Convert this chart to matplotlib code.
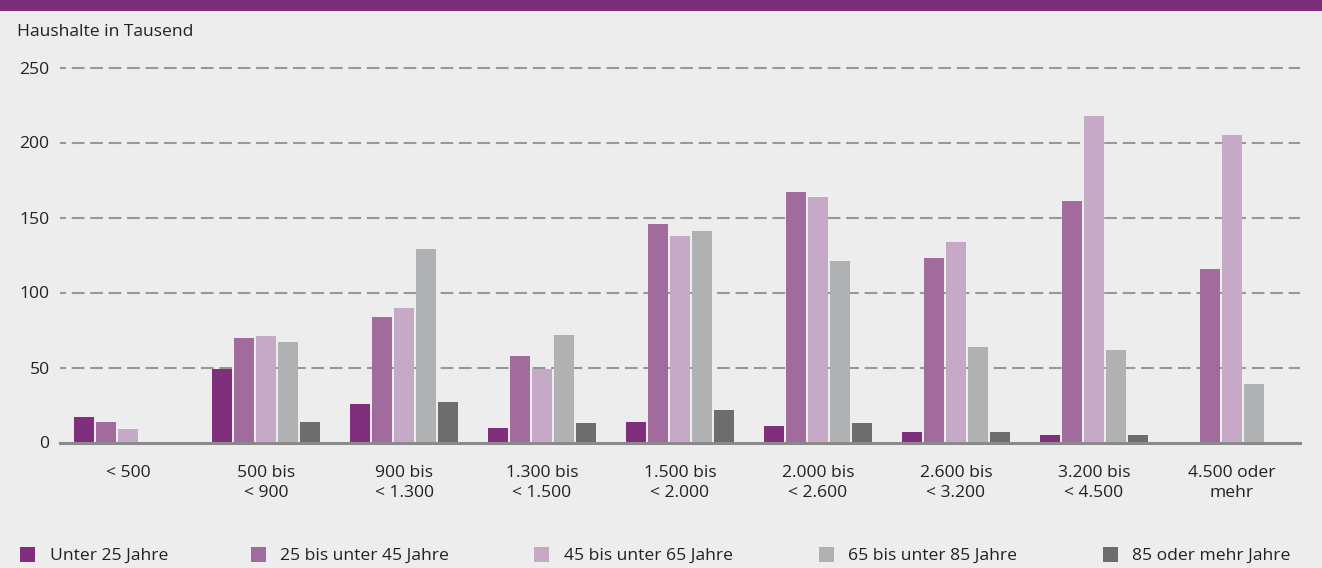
import matplotlib
matplotlib.use("Agg")
import matplotlib.pyplot as plt
from matplotlib.patches import Rectangle
import numpy as np

plt.rcParams['font.family'] = ['Open Sans', 'DejaVu Sans']

categories = ["< 500", "500 bis\n< 900", "900 bis\n< 1.300", "1.300 bis\n< 1.500",
              "1.500 bis\n< 2.000", "2.000 bis\n< 2.600", "2.600 bis\n< 3.200",
              "3.200 bis\n< 4.500", "4.500 oder\nmehr"]
series_names = ["Unter 25 Jahre", "25 bis unter 45 Jahre", "45 bis unter 65 Jahre",
                "65 bis unter 85 Jahre", "85 oder mehr Jahre"]
unter_25 = [17, 49, 26, 10, 14, 11, 7, 5, 0]
von_25_bis_45 = [14, 70, 84, 58, 146, 167, 123, 161, 116]
von_45_bis_65 = [9, 71, 90, 49, 138, 164, 134, 218, 205]
von_65_bis_85 = [0, 67, 129, 72, 141, 121, 64, 62, 39]
ab_85 = [0, 14, 27, 13, 22, 13, 7, 5, 0]
y_ticks = [0, 50, 100, 150, 200, 250]

series = [unter_25, von_25_bis_45, von_45_bis_65, von_65_bis_85, ab_85]
colors = ["#7f2f7b", "#a16b9e", "#c6a8c7", "#b0b1b2", "#6d6d6d"]

W, H = 1322, 568
bg = "#ededed"
fs = 12.6
txt_col = "#222222"
fig = plt.figure(figsize=(W / 100, H / 100), dpi=100, facecolor=bg)

# header band
fig.patches.append(Rectangle((0, 1 - 10.5 / H), 1, 10.5 / H, transform=fig.transFigure,
                             facecolor="#7b2f7b", edgecolor="none"))

ax = fig.add_axes([60 / W, (H - 442.5) / H, 1240 / W, 375 / H], facecolor=bg)

x = np.arange(len(categories))
bar_w = 0.145
pitch = 0.1594
for i, (vals, col) in enumerate(zip(series, colors)):
    ax.bar(x + (i - 2) * pitch, vals, width=bar_w, color=col, edgecolor="none", zorder=3)

ax.set_xlim(-0.493, 8.493)
ax.set_ylim(0, 250)
ax.set_yticks(y_ticks)
ax.set_yticklabels([str(t) for t in y_ticks])
ax.set_xticks(x)
ax.set_xticklabels(categories, linespacing=1.36)
for t in y_ticks[1:]:
    ax.axhline(t, color="#989898", lw=1.5, linestyle=(3.2, (6.1, 2.75)),
               zorder=1, clip_on=False)
ax.axhline(0, color="#8a8a8a", lw=2.2, zorder=4, clip_on=False)

for s in ax.spines.values():
    s.set_visible(False)
ax.tick_params(axis="both", length=0, labelsize=fs, colors=txt_col)
ax.tick_params(axis="y", pad=7.5)
ax.tick_params(axis="x", pad=16)

fig.text(17 / W, 1 - 35.5 / H, "Haushalte in Tausend", fontsize=fs, color=txt_col,
         va="baseline", ha="left")

# legend row
leg_sq = [20, 251, 534, 819, 1103]
leg_txt = [50, 280, 564, 848, 1132]
for sx, tx, name, col in zip(leg_sq, leg_txt, series_names, colors):
    fig.patches.append(Rectangle((sx / W, 1 - 562 / H), 15 / W, 15 / H,
                                 transform=fig.transFigure, facecolor=col, edgecolor="none"))
    fig.text(tx / W, 1 - 559.5 / H, name, fontsize=fs, color=txt_col,
             va="baseline", ha="left")

fig.savefig("out.png", dpi=100, facecolor=bg)
